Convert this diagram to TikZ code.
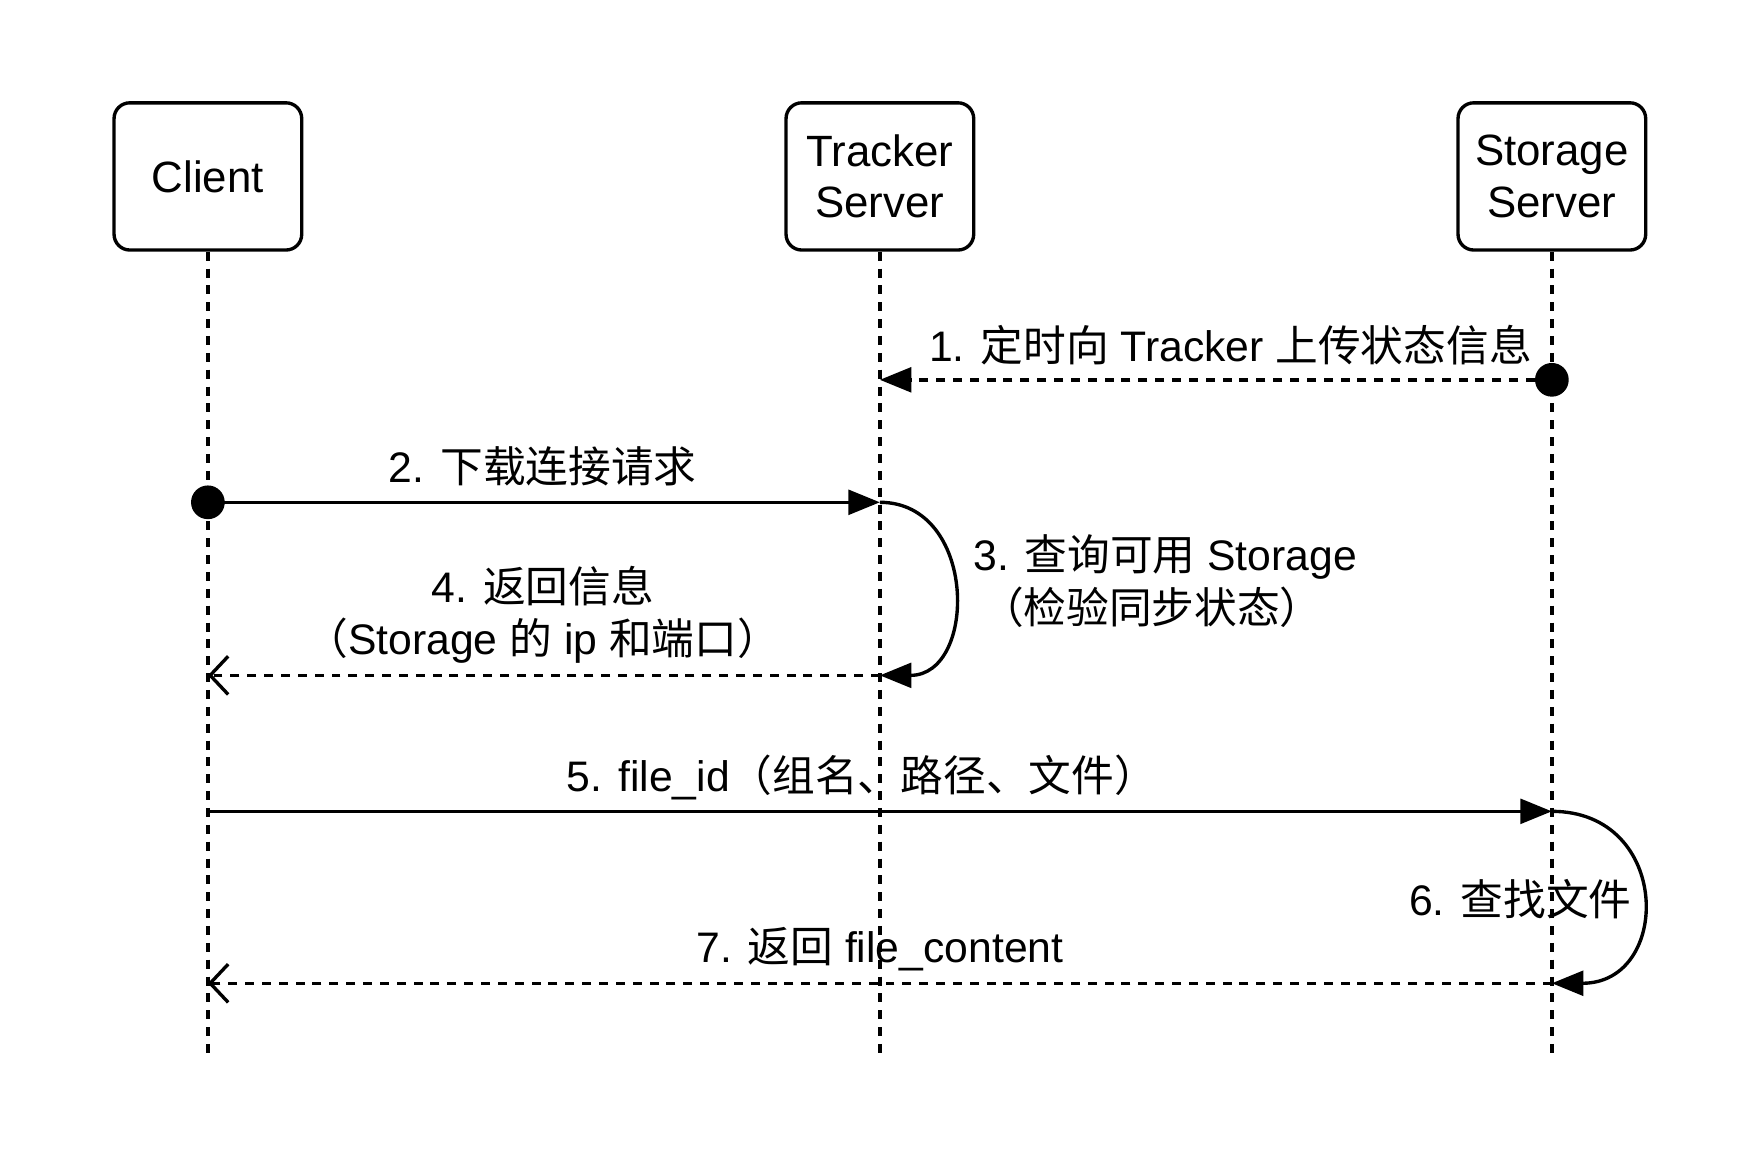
\documentclass[tikz,border=0pt]{standalone}
\usepackage{fontspec}
\setmainfont{Liberation Sans}
\newfontfamily\cjk{Noto Sans CJK SC}
\usetikzlibrary{arrows.meta}
\begin{document}
\begin{tikzpicture}[x=1pt,y=-1pt,
  actor/.style={draw,line width=3pt,rounded corners=14pt,minimum width=167pt,minimum height=131pt,align=center,font=\fontsize{39}{46}\selectfont},
  life/.style={line width=3pt,dash pattern=on 8pt off 7pt},
  msg/.style={line width=3pt},
  ret/.style={line width=3pt,dash pattern=on 8pt off 7pt},
  ftip/.style={-{Triangle[length=28pt,width=22pt]}},
  otip/.style={-{Straight Barb[length=16pt,width=34pt,line width=3pt]}},
  lbl/.style={font=\fontsize{38}{46}\selectfont,align=center,inner sep=0pt}]
\useasboundingbox (0,0) rectangle (1560,1030);
\node[actor] (C) at (185,157) {Client};
\node[actor] (T) at (783,157) {Tracker\\Server};
\node[actor] (S) at (1381,157) {Storage\\Server};
\coordinate (Ce) at (185,942);
\coordinate (Te) at (783,942);
\coordinate (Se) at (1381,942);
\draw[life] (C.south) -- (Ce);
\draw[life] (T.south) -- (Te);
\draw[life] (S.south) -- (Se);
% 1
\coordinate (s1) at (1381,338); \coordinate (t1) at (783,338);
\fill (s1) circle (15pt);
\draw[ret,ftip] (s1) -- (t1);
\node[lbl] (l1) at (1095,307) {1. {\cjk 定时向} Tracker {\cjk 上传状态信息}};
% 2
\coordinate (c2) at (185,447); \coordinate (t2) at (783,447);
\fill (c2) circle (15pt);
\draw[msg,ftip] (c2) -- (t2);
\node[lbl] (l2) at (483,415) {2. {\cjk 下载连接请求}};
% 3
\coordinate (t3) at (783,601);
\draw[msg,ftip] (t2) .. controls (870,447) and (870,601) .. (t3);
\node[lbl,anchor=west] (l3) at (866,496) {3. {\cjk 查询可用} Storage};
\node[lbl] (l3b) at (1025,540) {\cjk （检验同步状态）};
% 4
\coordinate (c4) at (185,601);
\draw[ret,otip] (t3) -- (c4);
\node[lbl] (l4) at (483,547) {4. {\cjk 返回信息}\\{\cjk （}Storage {\cjk 的} ip {\cjk 和端口）}};
% 5
\coordinate (c5) at (185,722); \coordinate (s5) at (1381,722);
\draw[msg,ftip] (c5) -- (s5);
\node[lbl] (l5) at (767,692) {5. file\_id{\cjk （组名、路径、文件）}};
% 6
\coordinate (s6) at (1381,875);
\draw[msg,ftip] (s5) .. controls (1488,722) and (1488,875) .. (s6);
\node[lbl,anchor=east] (l6) at (1452,800) {6. {\cjk 查找文件}};
% 7
\coordinate (c7) at (185,875);
\draw[ret,otip] (s6) -- (c7);
\node[lbl] (l7) at (783,845) {7. {\cjk 返回} file\_content};
\end{tikzpicture}
\end{document}
